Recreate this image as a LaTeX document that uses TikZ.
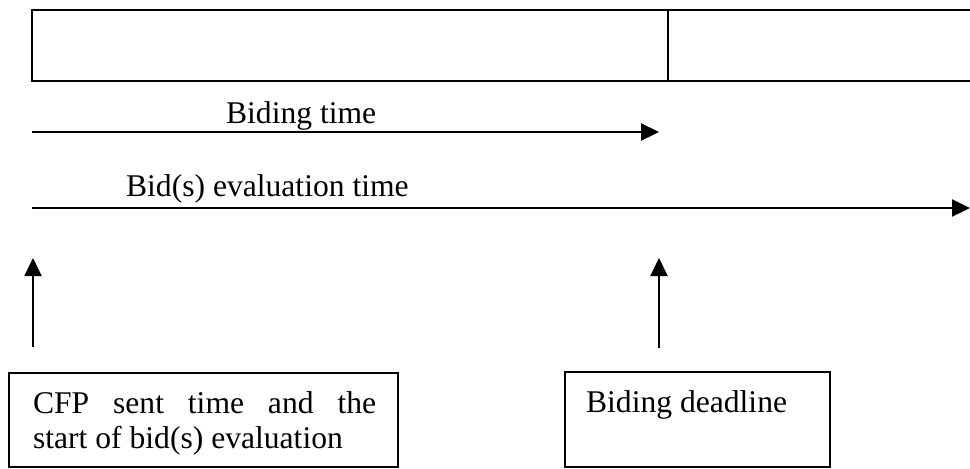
\documentclass[tikz,border=0pt]{standalone}
\usepackage{fontspec}
\setmainfont{Liberation Serif}
\usetikzlibrary{arrows.meta}
\begin{document}
\begin{tikzpicture}[x=0.5pt,y=-0.5pt,
  line width=1.1pt,
  txt/.style={inner sep=0pt, anchor=base west, font=\fontsize{15.8pt}{19pt}\selectfont},
  box/.style={draw, inner sep=0pt, anchor=north west},
  timeline/.style={-{Triangle[length=9pt,width=8.5pt]}},
]
\useasboundingbox (0,0) rectangle (970,468);

% open-ended bar at the top, split in two
\coordinate (barTL) at (32,10);
\coordinate (barBL) at (32,81);
\coordinate (barTR) at (970,10);
\coordinate (barBR) at (970,81);
\coordinate (divT) at (668,10);
\coordinate (divB) at (668,81);
\draw (barTR) -- (barTL) -- (barBL) -- (barBR);
\draw (divT) -- (divB);

% time spans
\coordinate (bidStart) at (32,132);
\coordinate (bidEnd) at (659,132);
\draw[timeline] (bidStart) -- (bidEnd);
\node[txt] (bidLabel) at (225,123) {Biding time};

\coordinate (evalStart) at (32,208);
\coordinate (evalEnd) at (970,208);
\draw[timeline] (evalStart) -- (evalEnd);
\node[txt] (evalLabel) at (125,196) {Bid(s) evaluation time};

% event boxes
\node[box, minimum width=194.5pt, minimum height=47pt] (cfp) at (8,372) {};
\node[txt] (cfpLine1) at (32,413) {\makebox[171.5pt][s]{CFP sent time and the}};
\node[txt] (cfpLine2) at (32,448) {start of bid(s) evaluation};

\node[box, minimum width=132.5pt, minimum height=47.5pt] (deadline) at (564,371) {};
\node[txt] (deadlineText) at (585,412) {Biding deadline};

% pointers from the boxes up to the time axis
\coordinate (cfpFoot) at (33,347);
\coordinate (cfpTip) at (33,258);
\draw[timeline] (cfpFoot) -- (cfpTip);
\coordinate (dlFoot) at (659,348);
\coordinate (dlTip) at (659,258);
\draw[timeline] (dlFoot) -- (dlTip);
\end{tikzpicture}
\end{document}
